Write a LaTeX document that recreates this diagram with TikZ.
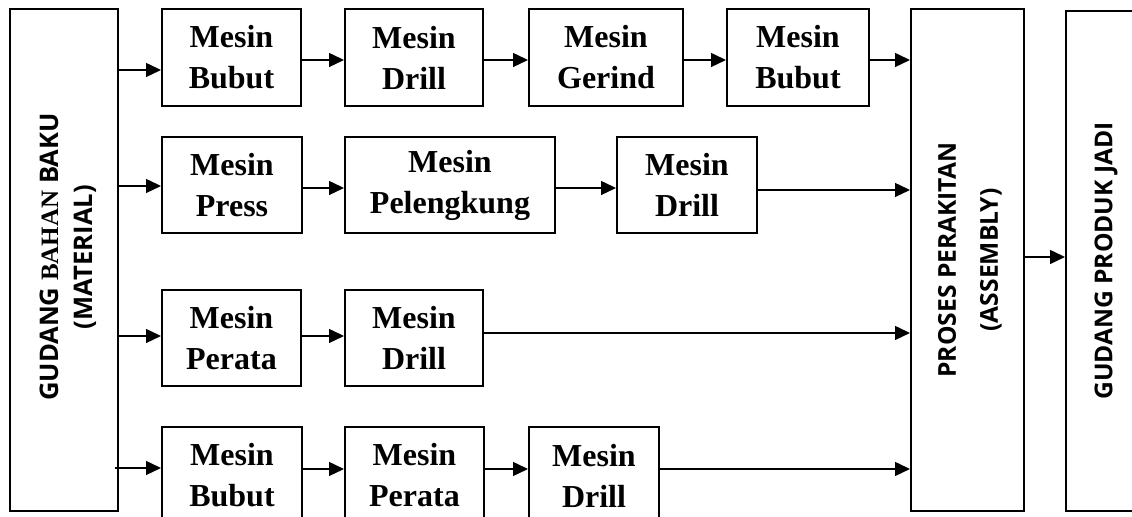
\documentclass[tikz,border=0pt]{standalone}
\usepackage{fontspec}
\setmainfont{Liberation Serif}
\newfontfamily\headsans{Open Sans}
\newfontfamily\headserif{Liberation Serif Bold}
\usetikzlibrary{arrows.meta}

\begin{document}
\begin{tikzpicture}[x=0.5pt,y=-0.5pt,
  machine/.style={draw, line width=1pt, inner sep=0pt, align=center,
    font=\fontsize{16}{20.5}\selectfont\bfseries},
  tallbox/.style={draw, line width=1pt, inner sep=0pt},
  talltext/.style={rotate=90, inner sep=0pt, align=center,
    font=\headsans\fontsize{12.3}{21}\selectfont\bfseries},
  flow/.style={-{Triangle[length=7.5pt,width=7pt]}, line width=0.7pt}]

\clip (0,0) rectangle (1132,517);

% warehouse of raw material, assembly, finished goods
\node[tallbox, minimum width=54pt, minimum height=251pt] (lb) at (64,260) {};
\node[talltext, font=\headsans\fontsize{12.8}{17}\selectfont\bfseries] (lbt) at (68,257)
  {GUDANG {\headserif\fontsize{12.5}{17}\selectfont BAHAN} BAKU\\(MATERIAL)};
\node[tallbox, minimum width=56.5pt, minimum height=251pt] (pr) at (967.5,260) {};
\node[talltext] (prt) at (970,260) {PROSES PERAKITAN\\(ASSEMBLY)};
\node[tallbox, minimum width=42pt, minimum height=250pt] (gp) at (1108,261) {};
\node[talltext] (gpt) at (1106,261) {GUDANG PRODUK JADI};

% line 1
\node[machine, minimum width=69.5pt, minimum height=48.5pt] (a1) at (231.5,57.5) {Mesin\\Bubut};
\node[machine, minimum width=69pt,   minimum height=48.5pt] (a2) at (414,57.5)   {Mesin\\Drill};
\node[machine, minimum width=77pt,   minimum height=48.5pt] (a3) at (606,57.5)   {Mesin\\Gerind};
\node[machine, minimum width=71pt,   minimum height=48.5pt] (a4) at (798,57.5)   {Mesin\\Bubut};
% line 2
\node[machine, minimum width=70pt,    minimum height=48pt] (b1) at (232,185)   {Mesin\\Press};
\node[machine, minimum width=105pt,   minimum height=48pt] (b2) at (450,185)   {Mesin\\Pelengkung};
\node[machine, minimum width=70pt,    minimum height=48pt] (b3) at (687,185)   {Mesin\\Drill};
% line 3
\node[machine, minimum width=69.5pt, minimum height=48pt] (c1) at (231.5,338) {Mesin\\Perata};
\node[machine, minimum width=69pt,   minimum height=48pt] (c2) at (414,338)   {Mesin\\Drill};
% line 4
\node[machine, minimum width=70pt,   minimum height=48.5pt] (d1) at (232,475.5)   {Mesin\\Bubut};
\node[machine, minimum width=69.5pt, minimum height=48.5pt] (d2) at (414.5,475.5) {Mesin\\Perata};
\node[machine, minimum width=65pt,   minimum height=48.5pt] (d3) at (594,475.5)   {Mesin\\Drill};

% heights of the flow lines
\coordinate (h1) at (0,70);
\coordinate (h1b) at (0,60);
\coordinate (h2) at (0,186);
\coordinate (h2b) at (0,188);
\coordinate (h2c) at (0,190);
\coordinate (h3) at (0,336);
\coordinate (h3b) at (0,333);
\coordinate (h4) at (0,468);
\coordinate (h4b) at (0,469);
\coordinate (h5) at (0,257);
\coordinate (s4) at (115,468);

\draw[flow] (lb.east |- h1) -- (a1.west |- h1);
\draw[flow] (a1.east |- h1b) -- (a2.west |- h1b);
\draw[flow] (a2.east |- h1b) -- (a3.west |- h1b);
\draw[flow] (a3.east |- h1b) -- (a4.west |- h1b);
\draw[flow] (a4.east |- h1b) -- (pr.west |- h1b);

\draw[flow] (lb.east |- h2) -- (b1.west |- h2);
\draw[flow] (b1.east |- h2b) -- (b2.west |- h2b);
\draw[flow] (b2.east |- h2b) -- (b3.west |- h2b);
\draw[flow] (b3.east |- h2c) -- (pr.west |- h2c);

\draw[flow] (lb.east |- h3) -- (c1.west |- h3);
\draw[flow] (c1.east |- h3) -- (c2.west |- h3);
\draw[flow] (c2.east |- h3b) -- (pr.west |- h3b);

\draw[flow] (s4) -- (d1.west |- h4);
\draw[flow] (d1.east |- h4b) -- (d2.west |- h4b);
\draw[flow] (d2.east |- h4b) -- (d3.west |- h4b);
\draw[flow] (d3.east |- h4b) -- (pr.west |- h4b);

\draw[flow] (pr.east |- h5) -- (gp.west |- h5);
\end{tikzpicture}
\end{document}
